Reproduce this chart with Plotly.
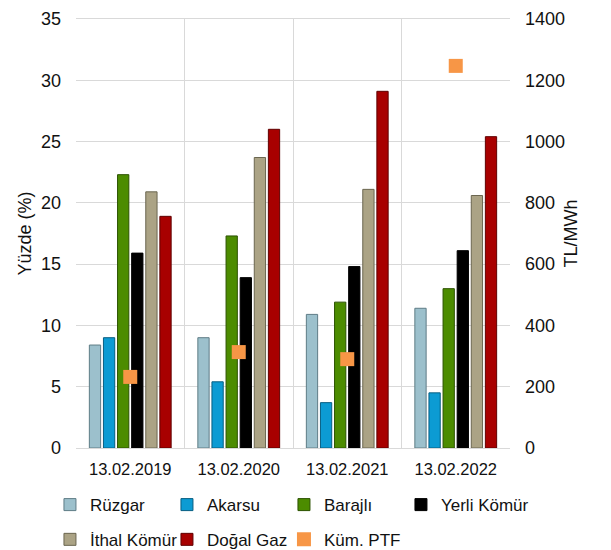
import plotly.graph_objects as go

dates = ["13.02.2019", "13.02.2020", "13.02.2021", "13.02.2022"]

ruzgar = [8.4, 9.0, 10.9, 11.4]
akarsu = [9.0, 5.4, 3.7, 4.5]
barajli = [22.3, 17.3, 11.9, 13.0]
yerli_komur = [15.9, 13.9, 14.8, 16.1]
ithal_komur = [20.9, 23.7, 21.1, 20.6]
dogal_gaz = [18.9, 26.0, 29.1, 25.4]
kum_ptf = [232, 313, 290, 1247]

series = [
    ("Rüzgar", ruzgar, "#9CC0CC", "#5E7C86"),
    ("Akarsu", akarsu, "#0C9BD3", "#075E82"),
    ("Barajlı", barajli, "#4C8C00", "#2C5200"),
    ("Yerli Kömür", yerli_komur, "#000000", "#000000"),
    ("İthal Kömür", ithal_komur, "#ABA385", "#6B6650"),
    ("Doğal Gaz", dogal_gaz, "#A80000", "#600000"),
]

# one legend per entry so the 4-column grid can be placed freely
leg_names = ["legend"] + [f"legend{i}" for i in range(2, 8)]

fig = go.Figure()
for i, (name, vals, col, edge) in enumerate(series):
    fig.add_trace(go.Bar(x=dates, y=vals, name=name, legend=leg_names[i],
                         showlegend=True,
                         marker=dict(color=col, line=dict(color=edge, width=1))))

fig.add_trace(go.Scatter(x=dates, y=kum_ptf, name="Küm. PTF", yaxis="y2",
                         mode="markers", legend=leg_names[6], showlegend=True,
                         marker=dict(symbol="square", size=14, color="#F79646")))

grid = "#D9D9D9"
col_w = 117 / 434  # legend column spacing in plot fractions
row_y = [-0.133, -0.214]
legends = {}
for i, ln in enumerate(leg_names):
    legends[ln] = dict(orientation="h", xanchor="left", yanchor="middle",
                       x=-0.06 + (i % 4) * col_w, y=row_y[i // 4],
                       entrywidth=130, entrywidthmode="pixels",
                       font=dict(size=17, color="#111"), itemwidth=30,
                       bgcolor="rgba(0,0,0,0)")

# page body has an 8px margin, margins below compensate for it
fig.update_layout(
    width=611, height=550, showlegend=True,
    margin=dict(l=68, r=109, t=11, b=110, autoexpand=False),
    paper_bgcolor="white", plot_bgcolor="white",
    font=dict(family="Liberation Sans, Arial", size=17, color="#111"),
    barmode="group", bargap=0.22, bargroupgap=0.2,
    xaxis=dict(type="category", tickson="boundaries", showgrid=True, gridcolor=grid,
               ticks="", tickfont=dict(size=16.5), showline=True, linecolor=grid,
               mirror=True, ticklabelstandoff=6),
    yaxis=dict(range=[0, 35], dtick=5, showgrid=True, gridcolor=grid,
               tickfont=dict(size=18),
               title=dict(text="Yüzde (%)", font=dict(size=18), standoff=4),
               zeroline=False, ticks="", ticklabelstandoff=14),
    yaxis2=dict(range=[0, 1400], dtick=200, overlaying="y", side="right",
                showgrid=False, zeroline=False, ticklabelstandoff=14,
                tickfont=dict(size=18),
                title=dict(text="TL/MWh", font=dict(size=18), standoff=0)),
    **legends,
)

fig.write_html("out.html")
